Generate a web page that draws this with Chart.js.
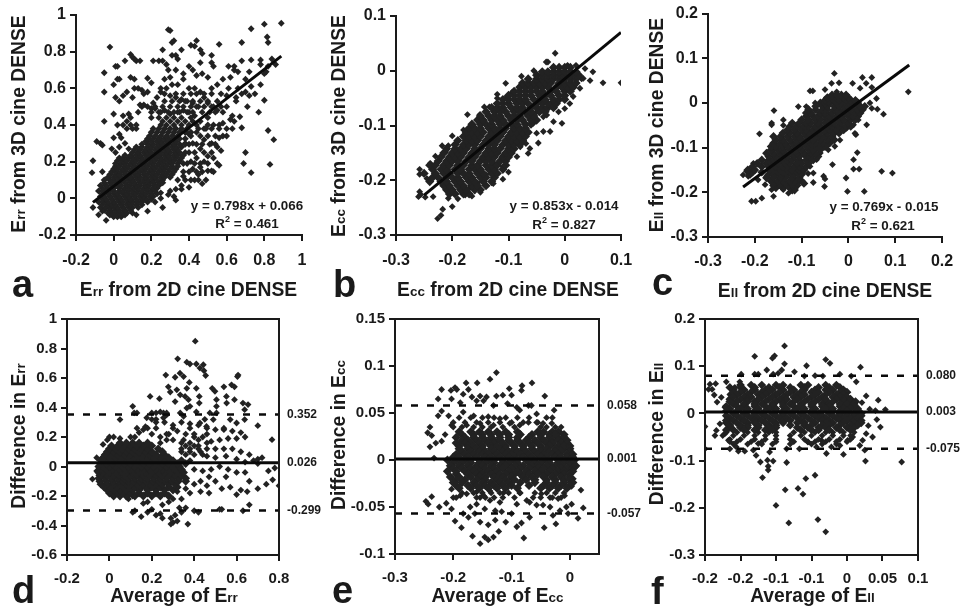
<!DOCTYPE html>
<html>
<head>
<meta charset="utf-8">
<title>2D vs 3D cine DENSE</title>
<script src="https://cdn.jsdelivr.net/npm/chart.js@4"></script>
<style>
    html, body { margin: 0; padding: 0; background: #fff; }
    #page { position: relative; width: 960px; height: 612px; overflow: hidden; background: #fff; filter: blur(0.4px); font-family: "Liberation Sans", Arial, sans-serif; font-weight: bold; color: #1a1a1a; }
    canvas { position: absolute; }
    .title { position: absolute; font-size: 19.3px; white-space: nowrap; transform: translate(-50%, -50%); }
    .title.rot { transform: translate(-50%, -50%) rotate(-90deg); }
    .title small { font-size: 70%; }
    .eq { position: absolute; font-size: 13.4px; white-space: nowrap; transform: translate(-50%, -50%); }
    .eq sup { font-size: 9px; line-height: 0; }
    .letter { position: absolute; font-size: 38px; line-height: 38px; }
</style>
</head>
<body>
<div id="page"></div>
<script>
// tick values and labels
const ticksA = { x: [-0.2, 0, 0.2, 0.4, 0.6, 0.8, 1], xl: ['-0.2', '0', '0.2', '0.4', '0.6', '0.8', '1'], y: [-0.2, 0, 0.2, 0.4, 0.6, 0.8, 1], yl: ['-0.2', '0', '0.2', '0.4', '0.6', '0.8', '1'] };
const ticksB = { x: [-0.3, -0.2, -0.1, 0, 0.1], xl: ['-0.3', '-0.2', '-0.1', '0', '0.1'], y: [-0.3, -0.2, -0.1, 0, 0.1], yl: ['-0.3', '-0.2', '-0.1', '0', '0.1'] };
const ticksC = { x: [-0.3, -0.2, -0.1, 0, 0.1, 0.2], xl: ['-0.3', '-0.2', '-0.1', '0', '0.1', '0.2'], y: [-0.3, -0.2, -0.1, 0, 0.1, 0.2], yl: ['-0.3', '-0.2', '-0.1', '0', '0.1', '0.2'] };
const ticksD = { x: [-0.2, 0, 0.2, 0.4, 0.6, 0.8], xl: ['-0.2', '0', '0.2', '0.4', '0.6', '0.8'], y: [-0.6, -0.4, -0.2, 0, 0.2, 0.4, 0.6, 0.8, 1], yl: ['-0.6', '-0.4', '-0.2', '0', '0.2', '0.4', '0.6', '0.8', '1'] };
const ticksE = { x: [-0.3, -0.2, -0.1, 0], xl: ['-0.3', '-0.2', '-0.1', '0'], y: [-0.1, -0.05, 0, 0.05, 0.1, 0.15], yl: ['-0.1', '-0.05', '0', '0.05', '0.1', '0.15'] };
// the original axis rounds -0.15 and -0.05 to one decimal
const ticksF = { x: [-0.2, -0.15, -0.1, -0.05, 0, 0.05, 0.1], xl: ['-0.2', '-0.2', '-0.1', '-0.1', '0', '0.05', '0.1'], y: [-0.3, -0.2, -0.1, 0, 0.1, 0.2], yl: ['-0.3', '-0.2', '-0.1', '0', '0.1', '0.2'] };

// regression lines, [x, y] of both ends
const fitA = [[-0.11, -0.022], [0.89, 0.776]];
const fitB = [[-0.25, -0.227], [0.1, 0.07]];
const fitC = [[-0.225, -0.188], [0.13, 0.085]];

// bland-altman lines: mean, upper, lower
const limitsD = [0.026, 0.352, -0.299];
const limitsE = [0.001, 0.058, -0.057];
const limitsF = [0.003, 0.08, -0.075];
const limitLabelsD = ['0.026', '0.352', '-0.299'];
const limitLabelsE = ['0.001', '0.058', '-0.057'];
const limitLabelsF = ['0.003', '0.080', '-0.075'];

// dense parts of the clouds: [y, x, x, x, ...] per row
const rowsA = [
    [-0.10, 0, 0.02, 0.04],
    [-0.09, -0.02, 0, 0.02, 0.04, 0.06],
    [-0.08, -0.03, -0.01, 0.01, 0.03, 0.05, 0.07],
    [-0.065, -0.05, -0.02, 0.01, 0.03, 0.06, 0.09],
    [-0.05, -0.07, -0.04, -0.02, 0, 0.02, 0.05, 0.08, 0.1, 0.13],
    [-0.035, -0.06, -0.03, -0.01, 0.01, 0.04, 0.07, 0.09, 0.12, 0.15],
    [-0.02, -0.08, -0.05, -0.03, 0, 0.03, 0.05, 0.08, 0.1, 0.13, 0.15, 0.18],
    [-0.005, -0.06, -0.04, -0.01, 0.02, 0.04, 0.07, 0.09, 0.12, 0.15, 0.17, 0.2],
    [0.01, -0.07, -0.05, -0.02, 0.01, 0.03, 0.06, 0.08, 0.11, 0.14, 0.16, 0.19, 0.21],
    [0.025, -0.06, -0.03, 0, 0.02, 0.05, 0.07, 0.1, 0.12, 0.15, 0.17, 0.2, 0.23],
    [0.04, -0.08, -0.05, -0.02, 0, 0.03, 0.05, 0.08, 0.1, 0.13, 0.15, 0.18, 0.2, 0.22],
    [0.055, -0.06, -0.03, 0, 0.03, 0.06, 0.08, 0.11, 0.13, 0.16, 0.18, 0.21, 0.23],
    [0.07, -0.07, -0.04, -0.01, 0.02, 0.04, 0.07, 0.09, 0.12, 0.14, 0.17, 0.19, 0.22, 0.24],
    [0.085, -0.05, -0.02, 0.01, 0.03, 0.06, 0.09, 0.11, 0.14, 0.16, 0.19, 0.21, 0.24, 0.26],
    [0.10, -0.05, -0.02, 0, 0.03, 0.05, 0.08, 0.1, 0.13, 0.16, 0.18, 0.21, 0.23, 0.26],
    [0.115, -0.03, 0, 0.02, 0.04, 0.07, 0.09, 0.12, 0.14, 0.17, 0.2, 0.22, 0.25, 0.27, 0.3],
    [0.13, -0.02, 0.01, 0.03, 0.06, 0.08, 0.11, 0.13, 0.16, 0.18, 0.21, 0.23, 0.26, 0.28, 0.31],
    [0.145, -0.01, 0.01, 0.04, 0.06, 0.09, 0.11, 0.14, 0.16, 0.19, 0.21, 0.24, 0.26, 0.29, 0.32],
    [0.16, 0, 0.02, 0.05, 0.07, 0.1, 0.12, 0.15, 0.17, 0.2, 0.22, 0.25, 0.27, 0.3, 0.33],
    [0.175, 0.01, 0.03, 0.06, 0.08, 0.11, 0.13, 0.16, 0.18, 0.21, 0.23, 0.26, 0.28, 0.31, 0.34],
    [0.19, 0.01, 0.04, 0.06, 0.09, 0.11, 0.14, 0.16, 0.19, 0.21, 0.24, 0.26, 0.29, 0.31, 0.34],
    [0.205, 0.02, 0.05, 0.07, 0.1, 0.12, 0.15, 0.17, 0.2, 0.22, 0.25, 0.27, 0.3, 0.32, 0.35],
    [0.22, 0.03, 0.05, 0.08, 0.1, 0.13, 0.15, 0.18, 0.2, 0.23, 0.25, 0.28, 0.3, 0.33, 0.36],
    [0.235, 0.06, 0.09, 0.12, 0.14, 0.17, 0.19, 0.22, 0.24, 0.27, 0.29, 0.32, 0.34, 0.37],
    [0.25, 0.1, 0.13, 0.16, 0.18, 0.2, 0.23, 0.25, 0.28, 0.3, 0.33, 0.35],
    [0.265, 0.11, 0.14, 0.17, 0.19, 0.22, 0.24, 0.27, 0.29, 0.32, 0.34],
    [0.28, 0.12, 0.15, 0.18, 0.2, 0.23, 0.25, 0.28, 0.31, 0.33, 0.36],
    [0.295, 0.15, 0.18, 0.21, 0.24, 0.26, 0.29, 0.32, 0.35, 0.38],
    [0.31, 0.17, 0.2, 0.23, 0.25, 0.28, 0.3, 0.33],
    [0.325, 0.18, 0.21, 0.24, 0.27, 0.29, 0.32, 0.35, 0.38],
    [0.34, 0.19, 0.22, 0.25, 0.28, 0.31, 0.34],
    [0.36, 0.2, 0.23, 0.26, 0.29, 0.32, 0.35, 0.38, 0.41],
    [0.38, 0.21, 0.24, 0.27, 0.3, 0.33, 0.36, 0.39]
];
const rowsB = [
    [-0.225, -0.205, -0.195, -0.18, -0.17],
    [-0.2175, -0.21, -0.2, -0.185, -0.175, -0.16, -0.15],
    [-0.21, -0.215, -0.205, -0.19, -0.18, -0.165, -0.155, -0.14],
    [-0.2025, -0.24, -0.22, -0.21, -0.195, -0.185, -0.17, -0.16, -0.145, -0.13],
    [-0.195, -0.235, -0.225, -0.21, -0.2, -0.19, -0.175, -0.165, -0.15, -0.14, -0.125],
    [-0.1875, -0.25, -0.23, -0.215, -0.205, -0.19, -0.18, -0.17, -0.155, -0.145, -0.13, -0.12],
    [-0.18, -0.235, -0.22, -0.21, -0.195, -0.185, -0.17, -0.16, -0.15, -0.135, -0.125, -0.11],
    [-0.1725, -0.24, -0.23, -0.215, -0.205, -0.19, -0.18, -0.165, -0.155, -0.14, -0.13, -0.12, -0.105],
    [-0.165, -0.225, -0.21, -0.2, -0.19, -0.175, -0.165, -0.15, -0.14, -0.13, -0.115, -0.105],
    [-0.1575, -0.22, -0.205, -0.195, -0.185, -0.17, -0.16, -0.145, -0.135, -0.125, -0.11, -0.1],
    [-0.15, -0.215, -0.2, -0.19, -0.18, -0.165, -0.155, -0.14, -0.13, -0.12, -0.105, -0.095],
    [-0.1425, -0.21, -0.195, -0.185, -0.175, -0.16, -0.15, -0.135, -0.125, -0.115, -0.1, -0.09],
    [-0.135, -0.195, -0.18, -0.17, -0.16, -0.145, -0.135, -0.125, -0.11, -0.1, -0.09, -0.08],
    [-0.1275, -0.19, -0.175, -0.165, -0.155, -0.14, -0.13, -0.12, -0.105, -0.095, -0.085, -0.075],
    [-0.12, -0.18, -0.17, -0.16, -0.15, -0.135, -0.125, -0.115, -0.1, -0.09, -0.08, -0.07],
    [-0.1125, -0.175, -0.165, -0.155, -0.145, -0.13, -0.12, -0.11, -0.095, -0.085, -0.075, -0.065],
    [-0.105, -0.17, -0.16, -0.15, -0.135, -0.125, -0.115, -0.105, -0.09, -0.08, -0.07],
    [-0.0975, -0.165, -0.15, -0.14, -0.13, -0.115, -0.105, -0.095, -0.085, -0.07, -0.06],
    [-0.09, -0.155, -0.145, -0.13, -0.12, -0.11, -0.095, -0.085, -0.075, -0.06, -0.05],
    [-0.0825, -0.15, -0.135, -0.125, -0.115, -0.1, -0.09, -0.08, -0.065, -0.055],
    [-0.075, -0.14, -0.125, -0.115, -0.105, -0.09, -0.08, -0.07, -0.06, -0.045, -0.035],
    [-0.0675, -0.13, -0.12, -0.11, -0.095, -0.085, -0.075, -0.06, -0.05, -0.04, -0.03, -0.02],
    [-0.06, -0.12, -0.11, -0.1, -0.085, -0.075, -0.065, -0.05, -0.04, -0.03, -0.015],
    [-0.0525, -0.11, -0.1, -0.09, -0.08, -0.07, -0.055, -0.045, -0.035, -0.02, -0.01, 0],
    [-0.045, -0.1, -0.09, -0.08, -0.07, -0.06, -0.045, -0.035, -0.025, -0.01, 0],
    [-0.0375, -0.09, -0.08, -0.07, -0.06, -0.05, -0.04, -0.025, -0.015, 0, 0.01],
    [-0.03, -0.08, -0.07, -0.06, -0.05, -0.04, -0.03, -0.015, -0.005, 0.005, 0.015],
    [-0.0225, -0.075, -0.065, -0.055, -0.045, -0.035, -0.025, -0.01, 0, 0.01, 0.02],
    [-0.015, -0.065, -0.05, -0.04, -0.03, -0.02, -0.01, 0, 0.01, 0.02],
    [-0.008, -0.05, -0.04, -0.03, -0.02, -0.01, 0, 0.01, 0.02, 0.025],
    [-0.002, -0.04, -0.03, -0.02, -0.01, 0, 0.01, 0.02],
    [0.006, -0.02, -0.01, 0, 0.01]
];
const rowsC = [
    [-0.195, -0.12, -0.115],
    [-0.19, -0.155, -0.14, -0.125, -0.115],
    [-0.185, -0.16, -0.145, -0.13, -0.12, -0.11],
    [-0.18, -0.16, -0.145, -0.135, -0.12, -0.11, -0.095],
    [-0.175, -0.165, -0.15, -0.14, -0.125, -0.115, -0.1],
    [-0.1675, -0.175, -0.16, -0.145, -0.135, -0.12, -0.105],
    [-0.16, -0.21, -0.17, -0.155, -0.14, -0.13, -0.115, -0.1],
    [-0.155, -0.205, -0.185, -0.165, -0.15, -0.14, -0.125, -0.11, -0.1],
    [-0.15, -0.215, -0.2, -0.17, -0.16, -0.145, -0.13, -0.12, -0.105, -0.095],
    [-0.1425, -0.205, -0.185, -0.17, -0.155, -0.14, -0.13, -0.115, -0.105, -0.09],
    [-0.135, -0.195, -0.175, -0.165, -0.15, -0.135, -0.125, -0.11, -0.1, -0.085],
    [-0.1275, -0.185, -0.17, -0.16, -0.145, -0.13, -0.12, -0.105, -0.09, -0.075],
    [-0.12, -0.17, -0.155, -0.14, -0.13, -0.115, -0.105, -0.09, -0.08, -0.065],
    [-0.1125, -0.175, -0.16, -0.145, -0.135, -0.12, -0.11, -0.095, -0.08, -0.07],
    [-0.105, -0.165, -0.15, -0.14, -0.125, -0.11, -0.1, -0.085, -0.075, -0.06],
    [-0.0975, -0.165, -0.155, -0.14, -0.13, -0.115, -0.105, -0.09, -0.08, -0.065, -0.05],
    [-0.09, -0.16, -0.145, -0.135, -0.12, -0.11, -0.095, -0.08, -0.07, -0.055, -0.04],
    [-0.0825, -0.155, -0.14, -0.125, -0.11, -0.1, -0.085, -0.075, -0.06, -0.045, -0.03],
    [-0.075, -0.16, -0.145, -0.13, -0.115, -0.105, -0.09, -0.08, -0.065, -0.05, -0.035],
    [-0.0675, -0.14, -0.125, -0.11, -0.095, -0.085, -0.07, -0.06, -0.045, -0.03, -0.02],
    [-0.06, -0.13, -0.115, -0.1, -0.09, -0.075, -0.065, -0.05, -0.04, -0.025, -0.01],
    [-0.0525, -0.125, -0.11, -0.095, -0.085, -0.07, -0.06, -0.045, -0.035, -0.02, -0.005, 0.005],
    [-0.045, -0.12, -0.105, -0.09, -0.08, -0.065, -0.05, -0.04, -0.03, -0.015, 0],
    [-0.0375, -0.1, -0.085, -0.07, -0.06, -0.045, -0.035, -0.02, -0.01, 0.005, 0.015],
    [-0.03, -0.09, -0.075, -0.065, -0.05, -0.04, -0.025, -0.015, 0, 0.01, 0.02],
    [-0.0225, -0.09, -0.08, -0.06, -0.05, -0.035, -0.02, -0.01, 0, 0.015, 0.025],
    [-0.015, -0.085, -0.07, -0.055, -0.045, -0.03, -0.02, -0.005, 0.005, 0.02, 0.03],
    [-0.0075, -0.07, -0.055, -0.045, -0.03, -0.02, -0.01, 0, 0.01, 0.025, 0.035],
    [0, -0.06, -0.05, -0.04, -0.025, -0.015, 0, 0.01, 0.02],
    [0.006, -0.05, -0.04, -0.03, -0.02, -0.005, 0.005, 0.015],
    [0.012, -0.045, -0.035, -0.02, -0.01, 0],
    [0.018, -0.035, -0.025, -0.015, -0.005]
];
const rowsD = [
    [-0.2, 0.02, 0.05, 0.08, 0.12, 0.16, 0.2, 0.24, 0.28],
    [-0.18, 0, 0.035, 0.065, 0.1, 0.14, 0.18, 0.22, 0.26],
    [-0.16, -0.01, 0.02, 0.05, 0.08, 0.11, 0.14, 0.18, 0.22, 0.26, 0.3],
    [-0.14, -0.025, 0.005, 0.035, 0.065, 0.095, 0.12, 0.15, 0.17, 0.2, 0.24, 0.28, 0.32],
    [-0.12, -0.04, -0.01, 0.02, 0.05, 0.08, 0.1, 0.13, 0.16, 0.19, 0.22, 0.25, 0.28, 0.31],
    [-0.1, -0.045, -0.015, 0.015, 0.045, 0.065, 0.09, 0.115, 0.145, 0.175, 0.205, 0.235, 0.265, 0.295, 0.325, 0.36],
    [-0.08, -0.05, -0.02, 0.01, 0.04, 0.07, 0.09, 0.12, 0.15, 0.18, 0.21, 0.24, 0.27, 0.3, 0.33, 0.36],
    [-0.06, -0.04, -0.01, 0.02, 0.045, 0.07, 0.1, 0.13, 0.16, 0.19, 0.22, 0.25, 0.28, 0.31, 0.34],
    [-0.04, -0.05, -0.03, 0, 0.03, 0.06, 0.08, 0.11, 0.14, 0.17, 0.2, 0.23, 0.26, 0.29, 0.32, 0.35],
    [-0.02, -0.04, -0.015, 0.015, 0.045, 0.075, 0.1, 0.13, 0.16, 0.19, 0.22, 0.25, 0.28, 0.31, 0.34],
    [0, -0.05, -0.03, 0, 0.03, 0.06, 0.09, 0.12, 0.15, 0.18, 0.21, 0.24, 0.27, 0.3, 0.33],
    [0.02, -0.035, -0.015, 0.015, 0.045, 0.07, 0.1, 0.13, 0.16, 0.19, 0.22, 0.25, 0.28, 0.32, 0.36],
    [0.04, -0.04, -0.01, 0.02, 0.05, 0.08, 0.11, 0.14, 0.17, 0.2, 0.23, 0.26, 0.3, 0.34],
    [0.06, -0.03, 0, 0.03, 0.06, 0.09, 0.12, 0.15, 0.18, 0.21, 0.24, 0.28],
    [0.08, -0.02, 0.01, 0.04, 0.07, 0.1, 0.13, 0.16, 0.19, 0.22, 0.26],
    [0.1, -0.01, 0.02, 0.05, 0.08, 0.11, 0.14, 0.17, 0.2, 0.25],
    [0.12, 0, 0.03, 0.06, 0.09, 0.12, 0.15, 0.18, 0.23],
    [0.14, 0.01, 0.04, 0.07, 0.1, 0.13, 0.16, 0.2],
    [0.16, 0.05, 0.08, 0.11, 0.14, 0.18]
];
const rowsE = [
    [0.03, -0.19, -0.17, -0.155, -0.14, -0.125, -0.11, -0.09, -0.055, -0.045, -0.03, -0.02],
    [0.027, -0.185, -0.165, -0.15, -0.135, -0.12, -0.105, -0.085, -0.065, -0.05, -0.035, -0.025, -0.01],
    [0.024, -0.195, -0.18, -0.165, -0.15, -0.135, -0.12, -0.105, -0.09, -0.07, -0.05, -0.035, -0.02, -0.01],
    [0.021, -0.185, -0.175, -0.16, -0.145, -0.13, -0.12, -0.105, -0.09, -0.075, -0.06, -0.045, -0.03, -0.02, -0.005],
    [0.018, -0.195, -0.18, -0.17, -0.155, -0.14, -0.13, -0.115, -0.1, -0.085, -0.07, -0.055, -0.04, -0.03, -0.015, -0.005],
    [0.015, -0.19, -0.175, -0.165, -0.15, -0.135, -0.125, -0.11, -0.095, -0.08, -0.065, -0.05, -0.035, -0.02, -0.01, 0],
    [0.012, -0.19, -0.175, -0.16, -0.15, -0.135, -0.12, -0.11, -0.095, -0.08, -0.065, -0.05, -0.04, -0.025, -0.01, 0],
    [0.009, -0.185, -0.17, -0.155, -0.145, -0.13, -0.115, -0.105, -0.09, -0.075, -0.06, -0.05, -0.035, -0.025, -0.015, 0],
    [0.006, -0.195, -0.18, -0.165, -0.15, -0.14, -0.125, -0.11, -0.1, -0.085, -0.07, -0.055, -0.045, -0.03, -0.02, -0.005, 0.005],
    [0.003, -0.2, -0.19, -0.175, -0.16, -0.145, -0.135, -0.12, -0.105, -0.095, -0.08, -0.065, -0.05, -0.04, -0.025, -0.015, -0.005, 0.005],
    [0, -0.21, -0.195, -0.18, -0.17, -0.155, -0.14, -0.13, -0.115, -0.1, -0.09, -0.075, -0.06, -0.045, -0.035, -0.02, -0.01, 0, 0.008],
    [-0.003, -0.2, -0.185, -0.17, -0.155, -0.145, -0.13, -0.115, -0.105, -0.09, -0.07, -0.06, -0.05, -0.035, -0.02, -0.01, 0, 0.005],
    [-0.006, -0.205, -0.19, -0.175, -0.16, -0.15, -0.135, -0.12, -0.11, -0.095, -0.08, -0.065, -0.055, -0.04, -0.025, -0.015, 0, 0.01],
    [-0.009, -0.2, -0.185, -0.17, -0.16, -0.145, -0.13, -0.115, -0.1, -0.085, -0.07, -0.055, -0.045, -0.03, -0.015, -0.005, 0.005],
    [-0.012, -0.21, -0.195, -0.18, -0.165, -0.155, -0.14, -0.125, -0.105, -0.09, -0.075, -0.06, -0.05, -0.035, -0.02, -0.01, 0.005],
    [-0.015, -0.195, -0.175, -0.16, -0.15, -0.135, -0.12, -0.11, -0.095, -0.085, -0.07, -0.055, -0.04, -0.025, -0.01, 0],
    [-0.018, -0.205, -0.19, -0.17, -0.155, -0.145, -0.13, -0.115, -0.1, -0.08, -0.065, -0.045, -0.03, -0.015, 0],
    [-0.021, -0.195, -0.18, -0.16, -0.145, -0.125, -0.11, -0.095, -0.075, -0.06, -0.04, -0.025, -0.01, 0],
    [-0.024, -0.2, -0.185, -0.165, -0.15, -0.135, -0.12, -0.105, -0.085, -0.06, -0.04, -0.025, -0.01, 0.005],
    [-0.027, -0.195, -0.175, -0.16, -0.145, -0.13, -0.115, -0.1, -0.07, -0.045, -0.03, -0.015, 0],
    [-0.03, -0.19, -0.17, -0.155, -0.14, -0.125, -0.11, -0.09, -0.05, -0.035, -0.02, -0.005]
];
const rowsF = [
    [0.06, -0.15, -0.135, -0.12, -0.1, -0.09, -0.065, -0.055, -0.03, -0.015],
    [0.055, -0.165, -0.15, -0.13, -0.11, -0.095, -0.08, -0.06, -0.04, -0.025, -0.01],
    [0.05, -0.16, -0.145, -0.13, -0.115, -0.105, -0.09, -0.075, -0.06, -0.045, -0.03, -0.02, -0.005],
    [0.045, -0.16, -0.15, -0.135, -0.12, -0.11, -0.095, -0.08, -0.065, -0.05, -0.04, -0.025, -0.01, 0],
    [0.04, -0.155, -0.14, -0.125, -0.115, -0.1, -0.085, -0.07, -0.06, -0.045, -0.03, -0.015, -0.005],
    [0.035, -0.16, -0.145, -0.135, -0.12, -0.105, -0.09, -0.075, -0.065, -0.05, -0.035, -0.02, -0.01, 0],
    [0.03, -0.165, -0.15, -0.14, -0.125, -0.11, -0.095, -0.085, -0.07, -0.055, -0.04, -0.03, -0.015, -0.005, 0.005],
    [0.025, -0.165, -0.155, -0.14, -0.13, -0.115, -0.1, -0.09, -0.075, -0.06, -0.045, -0.03, -0.02, -0.005, 0.005, 0.012],
    [0.02, -0.16, -0.145, -0.13, -0.12, -0.105, -0.09, -0.08, -0.065, -0.05, -0.035, -0.025, -0.01, 0, 0.01],
    [0.015, -0.17, -0.155, -0.145, -0.13, -0.115, -0.105, -0.09, -0.075, -0.065, -0.05, -0.035, -0.025, -0.01, 0, 0.01],
    [0.01, -0.165, -0.15, -0.14, -0.125, -0.11, -0.1, -0.085, -0.07, -0.06, -0.045, -0.03, -0.02, -0.005, 0.005, 0.015],
    [0.005, -0.17, -0.155, -0.14, -0.13, -0.115, -0.1, -0.09, -0.075, -0.06, -0.05, -0.035, -0.02, -0.01, 0, 0.015],
    [0, -0.16, -0.145, -0.13, -0.12, -0.105, -0.09, -0.08, -0.065, -0.05, -0.04, -0.025, -0.01, 0, 0.01, 0.02],
    [-0.005, -0.17, -0.155, -0.14, -0.13, -0.115, -0.1, -0.09, -0.075, -0.06, -0.045, -0.035, -0.02, -0.01, 0, 0.01, 0.02],
    [-0.01, -0.165, -0.15, -0.135, -0.125, -0.11, -0.095, -0.085, -0.07, -0.055, -0.04, -0.03, -0.015, -0.005, 0.005, 0.015],
    [-0.015, -0.17, -0.16, -0.145, -0.13, -0.12, -0.105, -0.09, -0.08, -0.065, -0.05, -0.035, -0.025, -0.01, 0, 0.01, 0.02],
    [-0.02, -0.17, -0.155, -0.14, -0.13, -0.115, -0.1, -0.09, -0.07, -0.06, -0.045, -0.03, -0.02, -0.005, 0.01, 0.02],
    [-0.025, -0.165, -0.15, -0.14, -0.125, -0.11, -0.1, -0.08, -0.06, -0.05, -0.035, -0.025, -0.01, 0.005, 0.015],
    [-0.03, -0.165, -0.15, -0.14, -0.125, -0.11, -0.1, -0.07, -0.055, -0.04, -0.03, -0.015, 0, 0.01],
    [-0.035, -0.17, -0.16, -0.145, -0.13, -0.115, -0.105, -0.065, -0.05, -0.04, -0.025, -0.01, 0.005]
];

// loose points around the clouds, [x, y]
const scatterA = [
    [0.89,0.955],[0.8,0.95],[0.73,0.925],[0.815,0.88],[0.82,0.85],[0.68,0.85],[0.56,0.84],[0.44,0.86],[0.41,0.835],[0.43,0.83],[0.46,0.81],[0.47,0.79],[0.52,0.78],[0.29,0.92],[0.3,0.915],[0.31,0.85],[0.32,0.86],[0.26,0.81],[0.31,0.78],[0.33,0.78],[0.36,0.81],[-0.02,0.825],[0.09,0.785],[0.1,0.77],[0.11,0.76],[0.14,0.75],[0.12,0.75],[0.06,0.75],[0.21,0.75],[0.24,0.75],[0.28,0.73],[0.34,0.76],[0.46,0.74],[0.52,0.74],[0.53,0.72],[0.61,0.72],[0.64,0.72],[0.68,0.75],[0.73,0.755],[0.78,0.755],[0.78,0.73],[0.84,0.76],[0.86,0.73],[0.72,0.69],[0.8,0.68],[0.81,0.69],[0.82,0.72],[0.66,0.69],[0.64,0.7],[-0.05,0.685],[0.01,0.72],[0.02,0.72],[0.03,0.65],[0,0.62],[0.02,0.65],[0.09,0.66],[0.11,0.65],[0.18,0.655],[0.2,0.63],[-0.05,0.58],[0.01,0.55],[0.03,0.53],[0.05,0.56],[0.07,0.58],[0.1,0.55],[0.11,0.6],[0.13,0.6],[0.15,0.59],[0.16,0.57],[0.18,0.58],[0.14,0.51],[0.16,0.51],[0.18,0.5],[0.2,0.49],[0.7,0.65],[0.71,0.5],[0.61,0.6],[0.65,0.55],[0.73,0.61],[0.78,0.62],[0.8,0.535],[0.77,0.47],[0.82,0.37],[0.85,0.32],[0.83,0.185],[0.7,0.25],[0.69,0.19],[0.73,0.14],[0.68,0.385],[0.63,0.38],[0.67,0.445],[0.62,0.43],[0.64,0.42],[-0.05,0.42],[0,0.46],[-0.09,0.31],[-0.07,0.3],[-0.06,0.29],[-0.11,0.205],[-0.115,0.14],[-0.06,0.145],
    [0.38,0.1],[0.36,0.07],[0.4,0.06],[0.43,0.1],[0.45,0.13],[0.42,0.16],[0.46,0.17],[0.48,0.2],[0.5,0.15],[0.52,0.15],[0.47,0.08],[0.41,0.2],[0.44,0.22],[0.5,0.23],[0.53,0.22],[0.56,0.18],[0.57,0.26],[0.55,0.28],[0.56,0.33],[0.4,0.25],[0.38,0.3],[0.42,0.3],[0.46,0.27],[0.48,0.32],[0.52,0.3],[0.4,0.35],[0.44,0.36],[0.48,0.38],[0.5,0.4],[0.53,0.4],[0.56,0.4],[0.58,0.41],[0.46,0.42],[0.43,0.45],[0.4,0.47],[0.37,0.48],[0.34,0.47],[0.3,0.46],[0.27,0.48],[0.24,0.47],[0.22,0.49],[0.45,0.5],[0.42,0.52],[0.39,0.53],[0.36,0.54],[0.33,0.55],[0.3,0.56],[0.28,0.6],[0.25,0.58],[0.31,0.62],[0.34,0.62],[0.37,0.65],[0.4,0.6],[0.43,0.6],[0.46,0.58],[0.48,0.55],[0.5,0.52],[0.52,0.5],[0.55,0.48],[0.58,0.47],[0.6,0.5],[0.63,0.45],[0.65,0.53],[0.68,0.57],[0.7,0.58],[0.72,0.56],[0.75,0.57],[0.66,0.6],[0.62,0.66],[0.58,0.65],[0.55,0.62],[0.52,0.6],[0.5,0.66],[0.47,0.68],[0.44,0.67],[0.42,0.7],[0.4,0.72],[0.37,0.68],[0.33,0.7],[0.3,0.66],[0.29,0.7],[0.27,0.65],[0.25,0.6],[0.23,0.55],[0.21,0.52],[0.6,0.56],[0.26,0.75],
    [0.02,0.4],[0.05,0.4],[0.07,0.42],[0.09,0.44],[0.07,0.38],[0.04,0.33],[0,0.33],[0.03,0.28],[0.01,0.25],[0.06,0.3],[0.08,0.27],[-0.01,0.27],[0.05,0.45],[0.08,0.46],[0.03,0.35],[0.25,0],[0.29,0.02],[0.32,0.01],[0.33,-0.01],[0.26,-0.05],[0.3,0.04],[0.33,0.05],[0.36,0.05],[0.25,0.03],[0.22,-0.02],[0.18,-0.07],[0.12,-0.09],[0.1,-0.08],[-0.04,-0.12],[-0.08,-0.09],[-0.11,-0.05],[-0.06,-0.07],
    [0.34,0.1],[0.37,0.12],[0.41,0.1],[0.45,0.1],[0.49,0.1],[0.37,0.145],[0.4,0.145],[0.44,0.145],[0.47,0.145],[0.53,0.145],[0.37,0.19],[0.39,0.19],[0.43,0.19],[0.46,0.19],[0.5,0.19],[0.55,0.19],[0.38,0.25],[0.43,0.25],[0.48,0.25],[0.52,0.25],[0.4,0.295],[0.44,0.295],[0.47,0.295],[0.51,0.295],[0.54,0.295],[0.41,0.34],[0.46,0.34],[0.5,0.34],[0.54,0.34],[0.58,0.34],[0.6,0.34],[0.45,0.38],[0.49,0.38],[0.52,0.38],[0.56,0.38],[0.6,0.38],[0.36,0.4],[0.4,0.4],[0.44,0.4],[0.12,0.38],[0.1,0.38],[0.09,0.4],[0.12,0.4],[0.25,0.4],[0.28,0.4],[0.32,0.4],[0.26,0.42],[0.3,0.42],[0.34,0.42],[0.38,0.42],[0.42,0.42],[0.2,0.44],[0.24,0.44],[0.28,0.44],[0.32,0.44],[0.36,0.44],[0.41,0.44],[0.5,0.44],[0.13,0.47],[0.2,0.47],[0.25,0.47],[0.29,0.47],[0.32,0.47],[0.35,0.47],[0.39,0.47],[0.42,0.47],[0.47,0.47],[0.51,0.47],[0.54,0.47],[0.15,0.5],[0.22,0.5],[0.26,0.5],[0.3,0.5],[0.34,0.5],[0.37,0.5],[0.41,0.5],[0.44,0.5],[0.48,0.5],[0.53,0.5],[0.57,0.5],[0.27,0.53],[0.31,0.53],[0.35,0.53],[0.38,0.53],[0.42,0.53],[0.46,0.53],[0.5,0.53],[0.55,0.53],[0.27,0.57],[0.33,0.57],[0.37,0.57],[0.41,0.57],[0.44,0.57],[0.48,0.57],[0.52,0.57],[0.57,0.57]
];
const scatterB = [
    [0.1,-0.022],[0.068,-0.022],[0.05,-0.002],[0.036,0.004],[0.03,-0.015],[0.045,-0.018],[0.02,0.01],[0.005,0.01],[-0.017,0.032],[-0.03,0.016],[-0.033,0.016],[-0.077,-0.01],[-0.105,-0.023],[-0.055,0],[-0.12,-0.043],[-0.12,-0.05],[-0.094,-0.04],[-0.103,-0.048],[-0.143,-0.066],[-0.134,-0.066],[-0.151,-0.08],[-0.173,-0.08],[-0.18,-0.108],[-0.2,-0.119],[-0.218,-0.137],[-0.207,-0.137],[-0.212,-0.148],[-0.23,-0.156],[-0.239,-0.169],[-0.258,-0.18],[-0.258,-0.189],[-0.245,-0.197],[-0.258,-0.221],[-0.26,-0.23],[-0.248,-0.231],[-0.234,-0.23],[-0.256,-0.226],
    [-0.226,-0.27],[-0.22,-0.264],[-0.217,-0.253],[-0.2,-0.248],[-0.19,-0.234],[-0.207,-0.233],[-0.177,-0.227],[-0.165,-0.229],[-0.15,-0.222],[-0.127,-0.206],[-0.11,-0.198],[-0.1,-0.185],[-0.085,-0.157],[-0.065,-0.151],[-0.062,-0.142],[-0.047,-0.132],[-0.038,-0.111],[-0.026,-0.111],[-0.005,-0.096],[-0.02,-0.093],[-0.05,-0.114],[-0.056,-0.096],[-0.069,-0.133],[-0.079,-0.139],[-0.073,-0.127],[-0.038,-0.084],[-0.032,-0.081],[-0.011,-0.075],[0,-0.069],[0.009,-0.06],[0.015,-0.047],[0.027,-0.032],[0.021,-0.023],[0.033,-0.014],
    [-0.06,-0.09],[-0.05,-0.075],[-0.04,-0.07],[-0.025,-0.06],[-0.015,-0.055],[0,-0.05],[-0.07,-0.105],[-0.085,-0.12],[-0.095,-0.135],[-0.11,-0.155],[-0.125,-0.17],[-0.14,-0.19],[-0.155,-0.205],[-0.17,-0.215],[-0.185,-0.22],[-0.11,-0.175]
];
const scatterC = [
    [0.128,0.025],[-0.03,0.066],[-0.036,0.044],[-0.02,0.045],[0.009,0.044],[0.03,0.057],[0.05,0.057],[0.038,0.044],[0.025,0.033],[0.05,0.035],[0.06,0.01],[0.046,0],[0.05,-0.012],[0.062,-0.014],[0.075,-0.025],[0.039,-0.049],[-0.082,0.027],[-0.076,0.027],[-0.107,-0.008],[-0.159,-0.017],[-0.164,-0.045],[-0.164,-0.049],[-0.19,-0.069],[-0.139,-0.038],[-0.139,-0.05],[-0.05,0.03],[-0.025,0.025],[-0.071,0],[-0.09,-0.008],
    [0.019,-0.111],[0.011,-0.127],[0.011,-0.148],[0.023,-0.148],[0.071,-0.153],[0.094,-0.157],[-0.005,-0.168],[-0.002,-0.198],[0.034,-0.198],[-0.034,-0.138],[-0.075,-0.178],[-0.051,-0.187],[-0.053,-0.164],[-0.05,-0.17],[-0.075,-0.157],[-0.086,-0.158],[-0.082,-0.142],[-0.068,-0.127],[-0.06,-0.112],[-0.043,-0.105],[-0.029,-0.097],[-0.018,-0.083],[0.016,-0.071],[0.014,-0.068],[-0.004,-0.057],[0.011,-0.049],[0.021,-0.038],
    [-0.207,-0.22],[-0.198,-0.22],[-0.185,-0.213],[-0.225,-0.161],[-0.218,-0.153],[-0.214,-0.164],[-0.203,-0.135],[-0.16,-0.209],[-0.164,-0.194],[-0.193,-0.172],[-0.178,-0.183],[-0.175,-0.164],[-0.128,-0.202],[-0.139,-0.194],[-0.111,-0.183]
];
const scatterD = [
    [0.405,0.85],[0.322,0.73],[0.365,0.707],[0.38,0.695],[0.41,0.695],[0.443,0.69],[0.427,0.667],[0.446,0.65],[0.454,0.617],[0.266,0.62],[0.31,0.605],[0.333,0.633],[0.35,0.61],[0.377,0.57],[0.607,0.62],[0.604,0.61],[0.278,0.54],[0.287,0.505],[0.318,0.52],[0.365,0.53],[0.41,0.53],[0.485,0.53],[0.498,0.51],[0.54,0.54],[0.576,0.554],[0.59,0.54],[0.192,0.475],[0.236,0.46],[0.31,0.44],[0.334,0.486],[0.357,0.475],[0.373,0.453],[0.424,0.475],[0.424,0.43],[0.552,0.475],[0.59,0.453],[0.505,0.453],[0.63,0.43],[0.654,0.42],[0.505,0.408],[0.38,0.408],[0.365,0.396],[0.11,0.408],[0.553,0.43],[0.505,0.363],
    [0.05,0.318],[0.117,0.363],[0.13,0.363],[0.176,0.33],[0.2,0.363],[0.22,0.363],[0.255,0.363],[0.27,0.363],[0.255,0.33],[0.334,0.363],[0.35,0.34],[0.474,0.363],[0.45,0.32],[0.427,0.295],[0.41,0.37],[0.458,0.272],[0.49,0.318],[0.57,0.318],[0.6,0.295],[0.638,0.385],[0.638,0.318],[0.7,0.277],[0.767,0.182],
    [0.22,0.3],[0.26,0.3],[0.3,0.28],[0.34,0.3],[0.38,0.29],[0.42,0.28],[0.46,0.26],[0.5,0.25],[0.54,0.25],[0.58,0.24],[0.62,0.23],[0.64,0.2],[0.6,0.19],[0.56,0.19],[0.52,0.18],[0.48,0.17],[0.44,0.2],[0.4,0.2],[0.36,0.22],[0.32,0.24],[0.28,0.22],[0.24,0.2],[0.3,0.18],[0.34,0.16],[0.38,0.16],[0.42,0.14],[0.46,0.12],[0.5,0.12],[0.54,0.12],[0.58,0.12],[0.62,0.1],[0.66,0.08],[0.7,0.05],[0.72,0.06],[0.55,0.07],[0.6,0.05],[0.64,0.03],[0.68,0.04],[0.5,0.06],[0.46,0.07],
    [0.4,-0.02],[0.44,-0.03],[0.48,-0.02],[0.52,0],[0.56,-0.02],[0.6,-0.04],[0.64,-0.04],[0.55,-0.07],[0.47,-0.07],[0.43,-0.1],[0.5,-0.1],[0.46,-0.13],[0.4,-0.12],[0.36,-0.15],[0.32,-0.17],[0.28,-0.24],[0.25,-0.26],[0.3,-0.22],[0.34,-0.22],[0.38,-0.18],[0.43,-0.17],[0.47,-0.18],[0.53,-0.15],[0.6,-0.19],[0.62,-0.16],[0.65,-0.17],[0.7,-0.15],[0.74,-0.12],[0.77,-0.09],[0.8,-0.13],[0.75,-0.03],[0.78,-0.01],[0.7,0.02],[0.66,-0.1],[0.57,-0.14],[0.66,-0.26],[0.63,-0.3],[0.52,-0.29],[0.53,-0.29],[0.42,-0.31],[0.4,-0.3],[0.37,-0.39],[0.29,-0.39],[0.3,-0.38],[0.32,-0.37],[0.29,-0.35],[0.31,-0.33],[0.34,-0.31],[0.33,-0.28],[0.36,-0.28],[0.24,-0.32],[0.25,-0.35],[0.15,-0.34],[0.18,-0.31],[0.11,-0.31],[0.12,-0.3],[0.2,-0.29],[0.22,-0.33],[0.16,-0.25],[0.18,-0.24],[0.03,-0.17],[0.02,-0.2],[0.09,-0.22],[0.11,-0.2],[-0.08,-0.085],[-0.06,0.06],[-0.06,-0.03],[-0.05,-0.06],[0,0.2],[0.02,0.2],[-0.03,0.15],[-0.01,0.18],[0.05,0.19],[0.1,0.2],[0.12,0.2],[0.14,0.23],[0.16,0.25],[0.17,0.27],[0.2,0.32],[0.13,0.26],[0.22,0.32],[0.24,0.37],[0.27,0.35],
    [0.38,0.04],[0.36,0.08],[0.4,0.08],[0.44,0.08],[0.34,0.1],[0.38,0.1],[0.43,0.1],[0.34,0.12],[0.38,0.12],[0.42,0.12],[0.36,0.14],[0.4,0.14],[0.24,0.16],[0.46,0.16],[0.27,0.18],[0.35,0.18],[0.42,0.18],[0.2,0.22],[0.27,0.22],[0.4,0.22],[0.46,0.22],[0.18,0.26],[0.22,0.26],[0.3,0.26],[0.38,0.26],[0.54,0.26]
];
const scatterE = [
    [-0.126,0.093],[-0.137,0.086],[-0.159,0.082],[-0.178,0.082],[-0.197,0.077],[-0.194,0.075],[-0.204,0.074],[-0.22,0.075],[-0.174,0.075],[-0.104,0.076],[-0.082,0.079],[-0.065,0.082],[-0.083,0.074],[-0.1,0.069],[-0.115,0.069],[-0.126,0.068],[-0.043,0.068],[-0.226,0.065],[-0.183,0.07],[-0.168,0.067],[-0.154,0.068],[-0.143,0.067],[-0.203,0.065],[-0.188,0.061],[-0.16,0.063],[-0.148,0.063],[-0.131,0.058],[-0.107,0.06],[-0.091,0.056],[-0.071,0.058],[-0.066,0.058],[-0.027,0.053],[-0.22,0.052],[-0.226,0.047],[-0.208,0.047],[-0.183,0.051],[-0.165,0.047],[-0.14,0.046],[-0.12,0.044],[-0.086,0.053],[-0.057,0.049],[-0.057,0.04],[-0.046,0.039],[-0.031,0.039],[-0.24,0.035],[-0.244,0.029],[-0.237,0.026],[-0.24,0.014],[-0.23,0.018],[-0.22,0.02],[-0.233,0.002],[-0.214,0.027],[-0.203,0.037],[-0.177,0.037],[-0.154,0.039],[-0.131,0.037],[-0.103,0.039],[-0.086,0.037],[-0.017,0.03],[-0.006,0.02],[-0.071,0.04],
    [-0.154,-0.089],[-0.146,-0.082],[-0.14,-0.085],[-0.131,-0.082],[-0.167,-0.081],[-0.186,-0.072],[-0.197,-0.065],[-0.203,-0.052],[-0.212,-0.046],[-0.224,-0.05],[-0.237,-0.039],[-0.247,-0.044],[-0.243,-0.047],[-0.079,-0.083],[-0.122,-0.076],[-0.14,-0.069],[-0.154,-0.066],[-0.091,-0.071],[-0.083,-0.067],[-0.044,-0.072],[-0.024,-0.068],[0.014,-0.062],[0.023,-0.051],[0.019,-0.032],[-0.003,-0.057],[-0.029,-0.059],[-0.069,-0.061],[-0.11,-0.066],[-0.128,-0.064],[-0.174,-0.061],[-0.163,-0.057],[-0.183,-0.057],[-0.117,-0.055],[-0.1,-0.057],[-0.146,-0.052],[-0.128,-0.054],[-0.091,-0.047],[-0.069,-0.045],[-0.057,-0.048],[-0.046,-0.048],[-0.034,-0.05],[-0.017,-0.054],[-0.006,-0.05],[0.003,-0.047],[-0.137,-0.043],[-0.12,-0.045],[-0.16,-0.047],[-0.154,-0.04],[-0.171,-0.05],[-0.188,-0.038],[-0.203,-0.031],[-0.2,-0.04],[-0.177,-0.036],[-0.086,-0.035],[-0.074,-0.043],[-0.063,-0.04],[-0.049,-0.036],[-0.034,-0.04],[-0.02,-0.041],[-0.009,-0.038],[0.003,-0.028],[0.006,-0.02],[0.011,-0.007],[-0.114,-0.035],[-0.137,-0.033],[-0.148,-0.038],[-0.16,-0.034],
    [-0.19,0.045],[-0.17,0.045],[-0.15,0.045],[-0.13,0.045],[-0.11,0.045],[-0.09,0.045],[-0.07,0.045],[-0.04,0.045],[-0.03,0.045],[-0.2,0.04],[-0.18,0.04],[-0.16,0.04],[-0.14,0.04],[-0.12,0.04],[-0.1,0.04],[-0.08,0.04],[-0.055,0.04],[-0.2,0.035],[-0.185,0.035],[-0.165,0.035],[-0.15,0.035],[-0.135,0.035],[-0.115,0.035],[-0.095,0.035],[-0.05,0.035],[-0.04,0.035],[-0.025,0.035],[-0.015,0.035],[-0.185,-0.035],[-0.165,-0.035],[-0.15,-0.035],[-0.135,-0.035],[-0.12,-0.035],[-0.105,-0.035],[-0.085,-0.035],[-0.06,-0.035],[-0.04,-0.035],[-0.025,-0.035],[-0.01,-0.035],[-0.195,-0.04],[-0.16,-0.04],[-0.145,-0.04],[-0.13,-0.04],[-0.115,-0.04],[-0.095,-0.04],[-0.05,-0.04],[-0.03,-0.04],[-0.015,-0.04]
];
const scatterF = [
    [-0.088,0.143],[-0.13,0.121],[-0.102,0.122],[-0.105,0.117],[-0.088,0.105],[-0.03,0.114],[-0.024,0.106],[-0.057,0.101],[0.019,0.098],[-0.113,0.092],[-0.092,0.092],[-0.074,0.088],[-0.097,0.085],[-0.149,0.083],[-0.13,0.083],[-0.125,0.083],[-0.104,0.083],[-0.06,0.079],[-0.045,0.08],[-0.034,0.079],[-0.01,0.083],[0.006,0.079],[0.013,0.067],[0.027,0.037],[0.021,0.023],[0.044,0.028],[0.032,0.009],[0.04,0.006],[0.054,0.008],[0.042,-0.013],[0.047,-0.029],[0.036,-0.05],[0.03,-0.026],[0.027,-0.043],[0.022,-0.057],[0.018,-0.068],[0.025,-0.078],[0.026,-0.101],[0.077,-0.103],[-0.005,-0.087],[-0.029,-0.085],
    [-0.128,-0.089],[-0.122,-0.103],[-0.112,-0.099],[-0.104,-0.101],[-0.111,-0.12],[-0.111,-0.112],[-0.119,-0.136],[-0.085,-0.104],[-0.058,-0.138],[-0.045,-0.131],[-0.087,-0.162],[-0.069,-0.159],[-0.062,-0.171],[-0.1,-0.195],[-0.041,-0.225],[-0.082,-0.232],[-0.03,-0.251],
    [-0.2,-0.028],[-0.193,0.062],[-0.185,0.063],[-0.19,0.051],[-0.195,0.051],[-0.187,0.039],[-0.2,-0.075],[-0.17,0.067],[-0.183,0.024],[-0.177,0.034],[-0.179,-0.022],[-0.184,-0.036],[-0.186,-0.047],[-0.172,-0.043],[-0.167,-0.057],[-0.165,-0.075],[-0.153,-0.08],[-0.144,-0.08],[-0.158,0.055],[-0.165,0.04],[-0.172,0.013],[-0.151,0.067],[-0.156,-0.071],[-0.132,-0.078],[-0.125,-0.064],[-0.109,-0.082],[-0.085,-0.075],[-0.067,-0.075],[-0.055,-0.061],[-0.043,-0.071],[-0.036,-0.057],[-0.022,-0.071],[-0.01,-0.068],[0.001,-0.057],[0.008,-0.05],
    [-0.17,-0.04],[-0.155,-0.04],[-0.14,-0.04],[-0.125,-0.04],[-0.11,-0.04],[-0.1,-0.04],[-0.075,-0.04],[-0.06,-0.04],[-0.045,-0.04],[-0.03,-0.04],[-0.02,-0.04],[-0.005,-0.04],[0.01,-0.04],[-0.175,-0.047],[-0.16,-0.047],[-0.145,-0.047],[-0.13,-0.047],[-0.115,-0.047],[-0.1,-0.047],[-0.08,-0.047],[-0.065,-0.047],[-0.05,-0.047],[-0.035,-0.047],[-0.02,-0.047],[-0.005,-0.047],[0.005,-0.047],[-0.165,-0.055],[-0.15,-0.055],[-0.13,-0.055],[-0.115,-0.055],[-0.1,-0.055],[-0.08,-0.055],[-0.06,-0.055],[-0.04,-0.055],[-0.025,-0.055],[-0.01,-0.055],[0.005,-0.055],[-0.165,-0.06],[-0.155,-0.06],[-0.135,-0.06],[-0.12,-0.06],[-0.1,-0.06],[-0.075,-0.06],[-0.055,-0.06],[-0.045,-0.06],[-0.03,-0.06],[-0.015,-0.06],[0,-0.06],[-0.16,-0.065],[-0.14,-0.065],[-0.12,-0.065],[-0.105,-0.065],[-0.08,-0.065],[-0.05,-0.065],[-0.035,-0.065],[-0.015,-0.065]
];

// text next to the plots
const xTitles = ['E<small>rr</small> from 2D cine DENSE', 'E<small>cc</small> from 2D cine DENSE', 'E<small>ll</small> from 2D cine DENSE', 'Average of E<small>rr</small>', 'Average of E<small>cc</small>', 'Average of E<small>ll</small>'];
const yTitles = ['E<small>rr</small> from 3D cine DENSE', 'E<small>cc</small> from 3D cine DENSE', 'E<small>ll</small> from 3D cine DENSE', 'Difference in E<small>rr</small>', 'Difference in E<small>cc</small>', 'Difference in E<small>ll</small>'];
const letters = ['a', 'b', 'c', 'd', 'e', 'f'];
const equations = ['y = 0.798x + 0.066', 'y = 0.853x - 0.014', 'y = 0.769x - 0.015'];
const rSquared = ['0.461', '0.827', '0.621'];

const page = document.getElementById('page');
const cellW = 330; // a little wider than a column, the -0.299 label needs it

function addHtml(className, html, left, top) {
    const el = document.createElement('div');
    el.className = className;
    el.innerHTML = html;
    el.style.left = left + 'px';
    el.style.top = top + 'px';
    page.appendChild(el);
}

function rowsToPoints(rows) {
    const out = [];
    rows.forEach(r => r.slice(1).forEach(x => out.push({ x: x, y: r[0] })));
    return out;
}

function pairsToPoints(pairs) {
    return pairs.map(p => ({ x: p[0], y: p[1] }));
}

// draws the frame of the bottom plots and the numbers at the right of the limit lines
const panelExtras = {
    id: 'panelExtras',
    afterDatasetsDraw(chart, args, options) {
        const { ctx, chartArea, scales: { y } } = chart;
        ctx.save();
        if (options.box) {
            ctx.strokeStyle = '#1a1a1a';
            ctx.lineWidth = 2;
            ctx.strokeRect(chartArea.left, chartArea.top, chartArea.right - chartArea.left, chartArea.bottom - chartArea.top);
        }
        if (options.limits) {
            ctx.font = 'bold 12px "Liberation Sans"';
            ctx.fillStyle = '#1a1a1a';
            ctx.textBaseline = 'middle';
            options.limits.forEach((v, i) => {
                ctx.fillText(options.limitLabels[i], chartArea.right + 8, y.getPixelForValue(v));
            });
        }
        ctx.restore();
    }
};

function axis(values, labels, min, max, size, padding, fontSize, horizontal) {
    return {
        type: 'linear',
        min: min,
        max: max,
        border: { color: '#1a1a1a', width: 2 },
        grid: { drawOnChartArea: false, drawTicks: true, tickLength: 6, color: '#1a1a1a', lineWidth: 2 },
        ticks: {
            color: '#1a1a1a',
            padding: padding,
            autoSkip: false,
            maxRotation: 0,
            minRotation: 0,
            font: { family: '"Liberation Sans"', size: fontSize, weight: 'bold' },
            callback: (value, index) => labels[index]
        },
        afterBuildTicks: (scale) => { scale.ticks = values.map(v => ({ value: v })); },
        // fixed sizes so the plot area lands where it does in the figure
        afterFit: (scale) => {
            if (horizontal) scale.height = size; else scale.width = size;
        }
    };
}

function makePanel(p) {
    const canvas = document.createElement('canvas');
    canvas.width = cellW;
    canvas.height = 306;
    canvas.style.left = p.cellX + 'px';
    canvas.style.top = p.cellY + 'px';
    page.appendChild(canvas);

    const datasets = [];
    if (p.fit) {
        datasets.push({ type: 'line', data: pairsToPoints(p.fit), borderColor: '#0a0a0a', borderWidth: 3, pointRadius: 0, order: 0 });
    }
    if (p.limits) {
        datasets.push({ type: 'line', data: [{ x: p.xMin, y: p.limits[0] }, { x: p.xMax, y: p.limits[0] }], borderColor: '#0a0a0a', borderWidth: 3, pointRadius: 0, order: 0 });
        [1, 2].forEach(i => {
            datasets.push({ type: 'line', data: [{ x: p.xMin, y: p.limits[i] }, { x: p.xMax, y: p.limits[i] }], borderColor: '#0a0a0a', borderWidth: 2.5, borderDash: [7, 9], pointRadius: 0, order: 0 });
        });
    }
    // the packed rows get a bit bigger diamonds so they close up like the overlapping marks in the figure
    datasets.push({ data: rowsToPoints(p.rows), pointStyle: 'rectRot', pointRadius: p.coreRadius, backgroundColor: '#222', borderWidth: 0, order: 1 });
    datasets.push({ data: pairsToPoints(p.scatter), pointStyle: 'rectRot', pointRadius: 3.4, backgroundColor: '#222', borderWidth: 0, order: 1 });

    new Chart(canvas, {
        type: 'scatter',
        data: { datasets: datasets },
        options: {
            responsive: false,
            animation: false,
            layout: { padding: { top: p.top - p.cellY, right: p.cellX + cellW - p.right, left: 0, bottom: 0 } },
            scales: {
                x: axis(p.ticks.x, p.ticks.xl, p.xMin, p.xMax, p.cellY + 306 - p.bottom, p.xPad, p.fontSize, true),
                y: axis(p.ticks.y, p.ticks.yl, p.yMin, p.yMax, p.left - p.cellX, 4, p.fontSize, false)
            },
            plugins: {
                legend: { display: false },
                tooltip: { enabled: false },
                panelExtras: { box: !!p.limits, limits: p.limits, limitLabels: p.limitLabels }
            }
        },
        plugins: [panelExtras]
    });
}

makePanel({ cellX: 0, cellY: 0, left: 76, right: 302, top: 15, bottom: 235, xMin: -0.2, xMax: 1, yMin: -0.2, yMax: 1, ticks: ticksA, rows: rowsA, scatter: scatterA, fit: fitA, xPad: 10, fontSize: 16, coreRadius: 3.6 });
makePanel({ cellX: 320, cellY: 0, left: 396, right: 621, top: 16, bottom: 235, xMin: -0.3, xMax: 0.1, yMin: -0.3, yMax: 0.1, ticks: ticksB, rows: rowsB, scatter: scatterB, fit: fitB, xPad: 10, fontSize: 16, coreRadius: 4.6 });
makePanel({ cellX: 640, cellY: 0, left: 708, right: 942, top: 13, bottom: 237, xMin: -0.3, xMax: 0.2, yMin: -0.3, yMax: 0.2, ticks: ticksC, rows: rowsC, scatter: scatterC, fit: fitC, xPad: 9, fontSize: 16, coreRadius: 4.4 });
makePanel({ cellX: 0, cellY: 306, left: 67, right: 279, top: 318, bottom: 555, xMin: -0.2, xMax: 0.8, yMin: -0.6, yMax: 1, ticks: ticksD, rows: rowsD, scatter: scatterD, limits: limitsD, limitLabels: limitLabelsD, xPad: 9, fontSize: 15, coreRadius: 4.4 });
makePanel({ cellX: 320, cellY: 306, left: 395, right: 599, top: 315, bottom: 554, xMin: -0.3, xMax: 0.05, yMin: -0.1, yMax: 0.15, ticks: ticksE, rows: rowsE, scatter: scatterE, limits: limitsE, limitLabels: limitLabelsE, xPad: 9, fontSize: 15, coreRadius: 4.6 });
makePanel({ cellX: 640, cellY: 306, left: 705, right: 918, top: 317, bottom: 555, xMin: -0.2, xMax: 0.1, yMin: -0.3, yMax: 0.2, ticks: ticksF, rows: rowsF, scatter: scatterF, limits: limitsF, limitLabels: limitLabelsF, xPad: 9, fontSize: 15, coreRadius: 4.4 });

// axis titles, panel letters and fit equations
const xTitlePos = [[188.5, 290], [508, 290], [825, 291], [174, 596], [497.5, 596], [812.5, 596]];
const yTitlePos = [[19, 124], [339, 126], [657, 124.5], [19, 436], [339, 434.5], [657, 433.5]];
const letterPos = [[12, 265], [333, 265], [652, 263], [12, 571], [332, 571], [651, 572]];
const eqPos = [[247, 205], [564, 205], [884, 206]];
const r2Pos = [[247, 223], [564, 224], [883, 225]];

xTitles.forEach((t, i) => addHtml('title', t, xTitlePos[i][0], xTitlePos[i][1]));
yTitles.forEach((t, i) => addHtml('title rot', t, yTitlePos[i][0], yTitlePos[i][1]));
letters.forEach((t, i) => addHtml('letter', t, letterPos[i][0], letterPos[i][1]));
equations.forEach((t, i) => addHtml('eq', t, eqPos[i][0], eqPos[i][1]));
rSquared.forEach((t, i) => addHtml('eq', 'R<sup>2</sup> = ' + t, r2Pos[i][0], r2Pos[i][1]));
</script>
</body>
</html>
